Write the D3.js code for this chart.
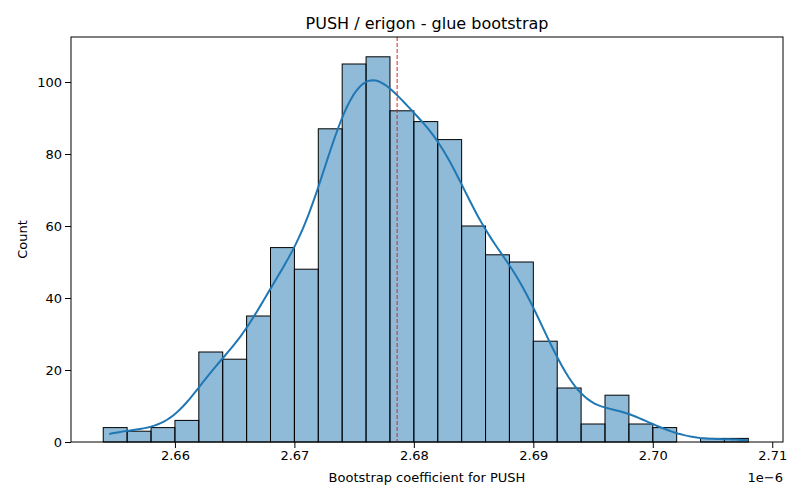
<!DOCTYPE html>
<html><head><meta charset="utf-8">
<script src="https://cdn.jsdelivr.net/npm/d3@7"></script>
<style>body{margin:0;background:#fff}text{font-family:"DejaVu Sans",sans-serif}</style>
</head><body><div id="chart"></div>
<script>
// data (x in units of 1e-6)
const binStart = 2.654, binWidth = 0.002;
const counts = [4,3,4,6,25,23,35,54,48,87,105,107,92,89,84,60,52,50,28,15,5,13,5,4,0,1,1];
const xTicks = [2.66,2.67,2.68,2.69,2.70,2.71];
const yTicks = [0,20,40,60,80,100];
const meanLine = 2.6786;

const W = 800, H = 500, m = {l:71, r:17, t:37, b:58};
const svg = d3.select("#chart").append("svg").attr("width", W).attr("height", H);
const x = d3.scaleLinear().domain([2.6513, 2.7109]).range([m.l, W - m.r]);
const y = d3.scaleLinear().domain([0, 112.5]).range([H - m.b, m.t]);

const bins = counts.map((c, i) => ({x0: binStart + i * binWidth, x1: binStart + (i + 1) * binWidth, c}));
svg.append("g").selectAll("rect").data(bins.filter(d => d.c > 0)).join("rect")
  .attr("x", d => x(d.x0)).attr("width", d => x(d.x1) - x(d.x0))
  .attr("y", d => y(d.c)).attr("height", d => y(0) - y(d.c))
  .attr("fill", "rgba(31,119,180,0.5)").attr("stroke", "#000").attr("stroke-width", 1);

// kde from binned counts
const n = d3.sum(counts);
const centers = bins.map(d => (d.x0 + d.x1) / 2);
const mean = d3.sum(bins, (d, i) => d.c * centers[i]) / n;
const sd = Math.sqrt(d3.sum(bins, (d, i) => d.c * (centers[i] - mean) ** 2) / n);
const bw = sd * Math.pow(n, -0.2);
const xs = d3.range(200).map(i => binStart + 0.0005 + i * (0.0535 / 199));
const kde = xs.map(v => [v, d3.sum(bins, (d, i) => d.c * Math.exp(-0.5 * ((v - centers[i]) / bw) ** 2)) / (bw * Math.sqrt(2 * Math.PI)) * binWidth]);
svg.append("path").datum(kde).attr("fill", "none").attr("stroke", "#1f77b4").attr("stroke-width", 2)
  .attr("d", d3.line().x(d => x(d[0])).y(d => y(d[1])));

svg.append("line").attr("x1", x(meanLine)).attr("x2", x(meanLine)).attr("y1", m.t).attr("y2", H - m.b)
  .attr("stroke", "#d62728").attr("stroke-width", 1).attr("stroke-dasharray", "4,2");

const xa = svg.append("g").attr("transform", `translate(0,${H - m.b})`)
  .call(d3.axisBottom(x).tickValues(xTicks).tickFormat(d3.format(".2f")).tickSizeOuter(0));
const ya = svg.append("g").attr("transform", `translate(${m.l},0)`)
  .call(d3.axisLeft(y).tickValues(yTicks).tickSizeOuter(0));
[xa, ya].forEach(a => { a.selectAll("text").attr("font-size", 13).attr("fill", "#000"); a.select(".domain").remove(); });
svg.append("rect").attr("x", m.l).attr("y", m.t).attr("width", W - m.l - m.r).attr("height", H - m.t - m.b)
  .attr("fill", "none").attr("stroke", "#000");

svg.append("text").attr("x", (m.l + W - m.r) / 2).attr("y", 29).attr("text-anchor", "middle").attr("font-size", 16).text("PUSH / erigon - glue bootstrap");
svg.append("text").attr("x", (m.l + W - m.r) / 2).attr("y", 482).attr("text-anchor", "middle").attr("font-size", 13).text("Bootstrap coefficient for PUSH");
svg.append("text").attr("x", W - m.r).attr("y", 482).attr("text-anchor", "end").attr("font-size", 13).text("1e\u22126");
svg.append("text").attr("transform", `translate(27,${(m.t + H - m.b) / 2}) rotate(-90)`).attr("text-anchor", "middle").attr("font-size", 13).text("Count");
</script></body></html>
